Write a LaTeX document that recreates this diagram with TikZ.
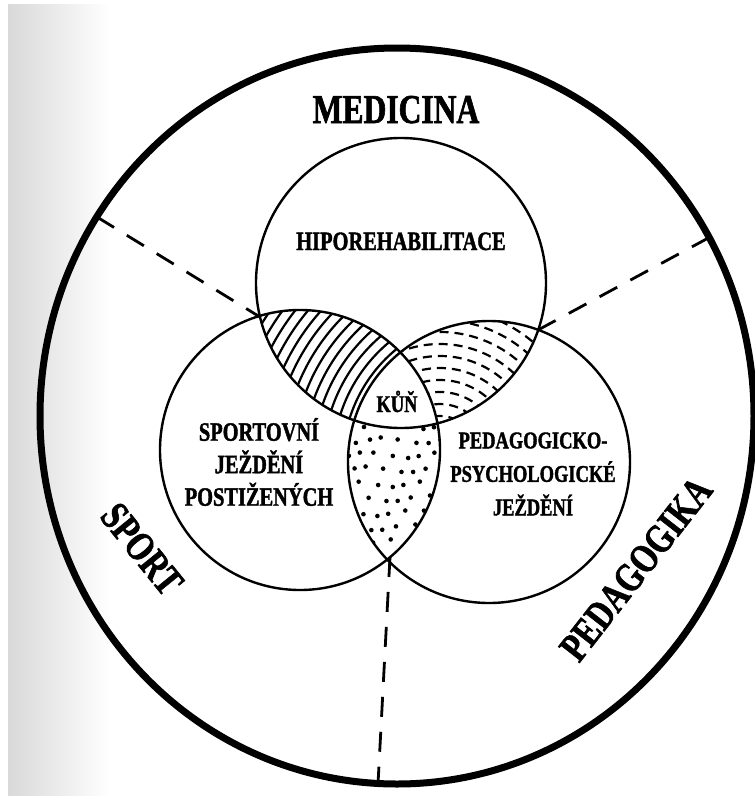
\documentclass[tikz,border=0pt]{standalone}
\usepackage{fontspec}
\setmainfont{Liberation Serif}
\newfontfamily\condfont[FakeStretch=0.77, FakeBold=1.5]{Liberation Serif}
\usetikzlibrary{calc}
\newcommand{\bigtxt}{\condfont\bfseries\fontsize{41}{44}\selectfont}
\newcommand{\midtxt}{\condfont\bfseries\fontsize{26.5}{32.5}\selectfont}
\newcommand{\smalltxt}{\condfont\bfseries\fontsize{24}{33.5}\selectfont}

\begin{document}
\begin{tikzpicture}[x=1pt, y=-1pt,
    venn/.style={line width=2.4pt},
    divider/.style={line width=2.8pt, dash pattern=on 20pt off 15pt},
    stripe/.style={line width=2.2pt}]
    \useasboundingbox (0,0) rectangle (755,796);

    % Scan shadow at the left edge
    \fill[left color=black!15, right color=white] (8,4) rectangle (110,796);

    % Coordinates
    \coordinate (O) at (397,416);
    \coordinate (T) at (401,283);
    \coordinate (L) at (300,450);
    \coordinate (R) at (489,462);
    \coordinate (D) at (440,452);
    \coordinate (TL) at (260,317);
    \coordinate (TR) at (538,330);
    \coordinate (LR) at (390,557);
    \coordinate (eTL) at (97,217);
    \coordinate (eTR) at (712,236);
    \coordinate (eLR) at (378,784);

    % Striped lens
    \begin{scope}
        \clip (T) circle[radius=145pt];
        \clip (L) circle[radius=140pt];
        \foreach \r in {146,156,...,286}
            \draw[stripe] (R) circle[radius=\r*1pt];
    \end{scope}

    % Dashed lens
    \begin{scope}
        \clip (T) circle[radius=145pt];
        \clip (R) circle[radius=141pt];
        \foreach \r in {36,48,...,168}
            \draw[stripe, dash pattern=on 9pt off 6pt, dash phase=\r] (D) circle[radius=\r*1pt];
    \end{scope}

    % Dotted lens
    \begin{scope}
        \clip (L) circle[radius=140pt];
        \clip (R) circle[radius=141pt];
        \foreach \i in {0,...,6}
            \foreach \j in {0,...,9}
                \fill ({346+15*\i+7.5*mod(\j,2)+3*sin(97*\i+53*\j)},{426+14.5*\j+3*cos(71*\i+37*\j)}) circle[radius=2.3pt];
    \end{scope}

    % Centre
    \begin{scope}
        \clip (T) circle[radius=145pt];
        \clip (L) circle[radius=140pt];
        \fill[white] (R) circle[radius=141pt];
    \end{scope}

    % Circles
    \draw[venn] (T) circle[radius=145pt] (L) circle[radius=140pt] (R) circle[radius=141pt];

    % Dividers
    \draw[divider] (eTL) -- (TL);
    \draw[divider] (TR) -- (eTR);
    \draw[divider] (LR) -- (eLR);

    % Outer ring
    \draw[line width=7pt] (O) ellipse[x radius=357pt, y radius=368pt];

    % Labels
    \node[font=\bigtxt, anchor=base] (med) at (396,123) {MEDICINA};
    \node[font=\midtxt, anchor=base] (hipo) at (401,250) {HIPOREHABILITACE};
    \node[font=\smalltxt, anchor=base] (kun) at (397,412) {KŮŇ};
    \node[font=\midtxt, align=center] (sportovni) at (259,462) {SPORTOVNÍ\\JEŽDĚNÍ\\POSTIŽENÝCH};
    \node[font=\smalltxt, align=center] (pedpsy) at (533,474) {PEDAGOGICKO-\\PSYCHOLOGICKÉ\\JEŽDĚNÍ};
    \node[font=\bigtxt, rotate=-51] (sport) at (142,549) {SPORT};
    \node[font=\bigtxt, rotate=52] (pedag) at (636,569) {PEDAGOGIKA};
\end{tikzpicture}
\end{document}
